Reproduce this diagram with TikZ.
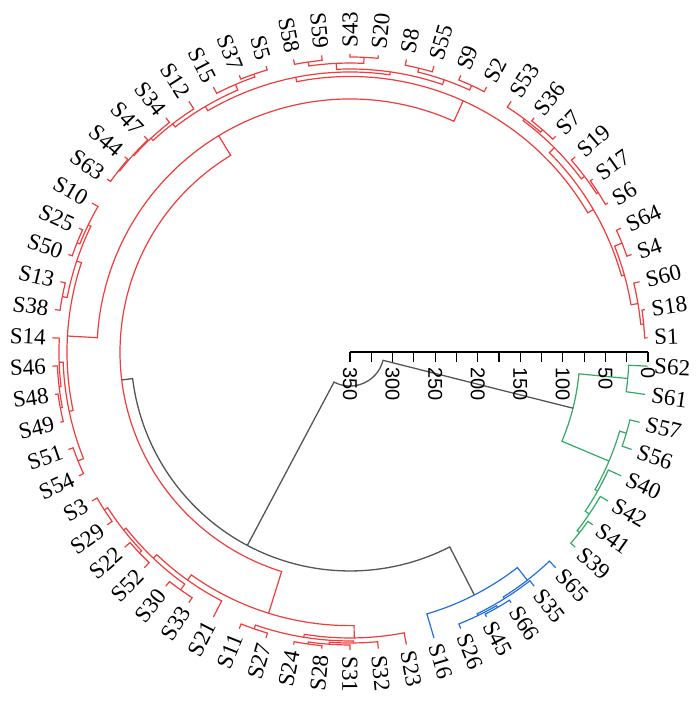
\documentclass[tikz,border=0pt]{standalone}
\usepackage{fontspec}
\setmainfont{Liberation Serif}
\newfontfamily\axisfont{Liberation Sans}

\definecolor{clred}{RGB}{240,60,60}
\definecolor{clgreen}{RGB}{50,170,100}
\definecolor{clblue}{RGB}{35,110,225}
\definecolor{clgray}{RGB}{85,85,85}

\newcommand{\hscale}{0.8514}
\newcommand{\leafrad}{298}

% leaf: name, position, label
\newcommand{\leafat}[3]{%
  \pgfmathsetmacro{\la}{(#2+0.5)*60/11}%
  \pgfmathtruncatemacro{\flip}{(\la>90)&&(\la<270)}%
  \expandafter\xdef\csname ang#1\endcsname{\la}%
  \coordinate (#1) at (\la:\leafrad);
  \ifnum\flip=1
    \node[leaflabel, anchor=east, rotate=\la+180] (#1lab) at (\la:300) {#3};
  \else
    \node[leaflabel, anchor=west, rotate=\la] (#1lab) at (\la:300) {#3};
  \fi
}

% join: name, child a, child b, height, line style
\newcommand{\joinpair}[5]{%
  \pgfmathsetmacro{\ma}{\csname ang#2\endcsname}%
  \pgfmathsetmacro{\mb}{\csname ang#3\endcsname}%
  \pgfmathsetmacro{\mm}{(\ma+\mb)/2}%
  \pgfmathsetmacro{\mr}{(350-#4)*\hscale}%
  \expandafter\xdef\csname ang#1\endcsname{\mm}%
  \coordinate (#1) at (\mm:\mr);
  \draw[#5] (#2) -- (\ma:\mr) arc[start angle=\ma, end angle=\mb, radius=\mr pt] -- (#3);
}

\begin{document}
\begin{tikzpicture}[x=1pt, y=1pt,
    redline/.style={draw=clred, line width=1.2pt},
    greenline/.style={draw=clgreen, line width=1.2pt},
    blueline/.style={draw=clblue, line width=1.2pt},
    grayline/.style={draw=clgray, line width=1.3pt},
    leaflabel/.style={font=\fontsize{23}{23}\selectfont, inner sep=4.5pt},
    ticklabel/.style={font=\axisfont\fontsize{20}{20}\selectfont, rotate=-90, anchor=west, inner sep=1pt}
]
\useasboundingbox (-350,-351) rectangle (350,352);

% Leaves
\foreach \nm [count=\i from 0] in {1,18,60,4,64,6,17,19,7,36,53,2,9,55,8,20,43,59,58,5,37,15,12,34,47,44,63,10,25,50,13,38,14,46,48,49,51,54,3,29,22,52,30,33,21,11,27,24,28,31,32,23,16,26,45,66,35,65,39,41,42,40,56,57,61,62}
  {\leafat{s\nm}{\i}{S\nm}}

% Green cluster
\joinpair{g1}{s39}{s41}{7}{greenline}
\joinpair{g2}{g1}{s42}{10.6}{greenline}
\joinpair{g3}{g2}{s40}{16.4}{greenline}
\joinpair{g4}{s56}{s57}{11.7}{greenline}
\joinpair{g5}{g3}{g4}{19.9}{greenline}
\joinpair{g6}{s61}{s62}{22.3}{greenline}
\joinpair{green}{g5}{g6}{79.9}{greenline}

% Blue cluster
\joinpair{b1}{s45}{s66}{3.5}{blueline}
\joinpair{b2}{s26}{b1}{5.9}{blueline}
\joinpair{b3}{b2}{s35}{8.2}{blueline}
\joinpair{b4}{b3}{s65}{10.6}{blueline}
\joinpair{blue}{s16}{b4}{29.4}{blueline}

% Red cluster, lower part
\joinpair{r1}{s3}{s29}{7}{redline}
\joinpair{r2}{s22}{s52}{8.2}{redline}
\joinpair{r3}{r1}{r2}{11.7}{redline}
\joinpair{r4}{s30}{s33}{7}{redline}
\joinpair{r5}{r3}{r4}{15.3}{redline}
\joinpair{r6}{r5}{s21}{21.1}{redline}
\joinpair{r7}{s11}{s27}{5.9}{redline}
\joinpair{r8}{s24}{s28}{3.5}{redline}
\joinpair{r9}{r8}{s31}{5.9}{redline}
\joinpair{r10}{r9}{s32}{8.2}{redline}
\joinpair{r11}{r7}{r10}{10.6}{redline}
\joinpair{r12}{r11}{s23}{14.1}{redline}
\joinpair{redB}{r6}{r12}{28.6}{redline}

% Red cluster, left part
\joinpair{r13}{s25}{s50}{4.7}{redline}
\joinpair{r14}{s10}{r13}{8.2}{redline}
\joinpair{r15}{s13}{s38}{5.9}{redline}
\joinpair{r16}{r14}{r15}{11.7}{redline}
\joinpair{r17}{s48}{s49}{3.5}{redline}
\joinpair{r18}{s46}{r17}{5.9}{redline}
\joinpair{r19}{s14}{r18}{8.2}{redline}
\joinpair{r20}{s51}{s54}{5.9}{redline}
\joinpair{r21}{r19}{r20}{12.9}{redline}
\joinpair{redA1}{r16}{r21}{17.6}{redline}

% Red cluster, right and top part
\joinpair{r22}{s1}{s18}{3.5}{redline}
\joinpair{r23}{r22}{s60}{7}{redline}
\joinpair{r24}{s4}{s64}{5.9}{redline}
\joinpair{r25}{r23}{r24}{15.3}{redline}
\joinpair{r26}{s6}{s17}{3.5}{redline}
\joinpair{r27}{r26}{s19}{5.9}{redline}
\joinpair{r28}{s7}{s36}{4.7}{redline}
\joinpair{r29}{s53}{r28}{8.2}{redline}
\joinpair{r30}{r27}{r29}{10.6}{redline}
\joinpair{r31}{r25}{r30}{18.8}{redline}
\joinpair{r32}{s2}{s9}{5.9}{redline}
\joinpair{r33}{s55}{s8}{7}{redline}
\joinpair{r34}{r32}{r33}{11.7}{redline}
\joinpair{r35}{s20}{s43}{3.5}{redline}
\joinpair{r36}{s59}{s58}{5.9}{redline}
\joinpair{r37}{r35}{r36}{10.6}{redline}
\joinpair{r38}{r34}{r37}{17.6}{redline}
\joinpair{r39}{s5}{s37}{4.7}{redline}
\joinpair{r40}{r39}{s15}{8.2}{redline}
\joinpair{r41}{s44}{s63}{4.7}{redline}
\joinpair{r42}{s47}{r41}{5.9}{redline}
\joinpair{r43}{s34}{r42}{7}{redline}
\joinpair{r44}{s12}{r43}{10.6}{redline}
\joinpair{r45}{r40}{r44}{15.3}{redline}
\joinpair{r46}{r38}{r45}{21.1}{redline}
\joinpair{redA2}{r31}{r46}{26.4}{redline}
\joinpair{redA}{redA2}{redA1}{52.8}{redline}
\joinpair{red}{redA}{redB}{79.9}{redline}

% Upper joins
\joinpair{core}{red}{blue}{92.8}{grayline}
\joinpair{root}{core}{green}{310}{grayline}

% Height axis
\draw[line width=1.6pt] (0,0) -- (\leafrad,0);
\foreach \t in {0,25,...,350}
  \draw[line width=1.2pt] ({(350-\t)*\hscale},0) -- ({(350-\t)*\hscale},-10);
\foreach \t in {0,50,...,350}
  \node[ticklabel] at ({(350-\t)*\hscale},-14) {\t};

\end{tikzpicture}
\end{document}
